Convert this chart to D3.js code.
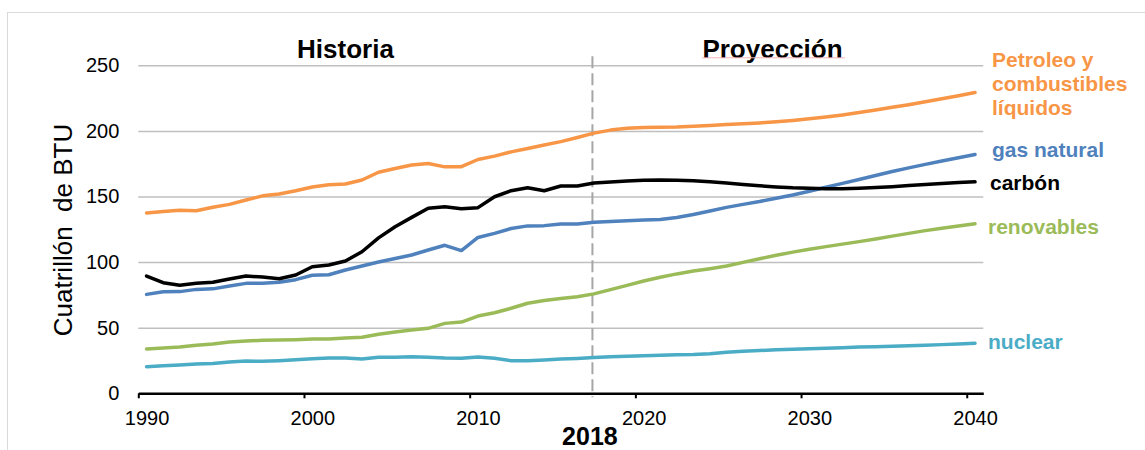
<!DOCTYPE html>
<html>
<head>
<meta charset="utf-8">
<script src="https://cdn.jsdelivr.net/npm/d3@7"></script>
<style>
  body { margin: 0; background: #fff; }
  svg text { font-family: "Liberation Sans", Arial, sans-serif; }
</style>
</head>
<body>
<div id="plot-container"></div>
<script>
// years on the category axis
var years = d3.range(1990, 2041)

// Cuatrillón de BTU, one value per year 1990..2040
var petroleo = [137.5, 138.6, 139.5, 139.1, 141.8, 144, 147.3, 150.5, 151.9, 154.4,
  157.3, 159, 159.5, 162.6, 168.5, 171.3, 174, 175.2, 172.6, 172.7,
  178.2, 180.8, 184, 186.6, 189.2, 191.8, 195, 198.3, 200.6, 202, 202.6,
  202.8, 203, 203.5, 204.2, 204.8, 205.4, 206.1, 207, 208, 209.2,
  210.6, 212.2, 214, 216, 218, 220, 222.2, 224.5, 226.8, 229.2]
var gasNatural = [75.4, 77.4, 77.5, 79.2, 79.6, 81.8, 83.8, 83.9, 84.6, 86.6,
  90, 90.4, 94, 97, 100.1, 102.8, 105.4, 109.2, 112.8, 108.8,
  118.8, 121.9, 125.6, 127.6, 127.8, 129, 129.1, 130.3, 131, 131.6, 132,
  132.5, 134, 136.3, 139, 141.7, 144, 146.2, 148.7, 151.2, 154,
  157, 160, 163, 166, 169, 171.8, 174.5, 177, 179.5, 182]
var carbon = [89.4, 84.3, 82.3, 83.8, 84.6, 87.1, 89.4, 88.6, 87.3, 90.2,
  96.5, 97.8, 100.8, 107.9, 118.5, 127, 134.1, 141, 142.2, 140.7,
  141.5, 149.8, 154.4, 156.7, 154.4, 158, 158, 160.3, 161, 161.8, 162.3,
  162.5, 162.3, 162, 161.3, 160.3, 159.2, 158.2, 157.3, 156.6, 156.2,
  156, 156, 156.3, 156.8, 157.5, 158.3, 159.1, 159.9, 160.6, 161.2]
var renovables = [33.8, 34.5, 35.3, 36.6, 37.6, 39.1, 39.9, 40.4, 40.6, 40.9,
  41.4, 41.4, 42.1, 42.7, 45, 46.7, 48.2, 49.5, 53.3, 54.3,
  58.9, 61.4, 64.8, 68.6, 70.8, 72.2, 73.6, 75.8, 79, 82.3, 85.6,
  88.5, 91, 93.2, 95, 97, 99.8, 102.5, 105.2, 107.6, 109.8,
  111.8, 113.7, 115.6, 117.6, 119.8, 121.9, 124, 125.8, 127.5, 129.2]
var nuclear = [20.3, 21, 21.6, 22.3, 22.8, 23.9, 24.6, 24.4, 24.9, 25.6,
  26.4, 26.9, 26.9, 26.1, 27.4, 27.4, 27.9, 27.4, 26.9, 26.7,
  27.7, 26.7, 24.8, 24.8, 25.4, 26.2, 26.6, 27.2, 27.8, 28.3, 28.7,
  29, 29.3, 29.6, 30.2, 31.2, 32, 32.6, 33.1, 33.6, 34,
  34.4, 34.8, 35.2, 35.5, 35.8, 36.2, 36.6, 37.1, 37.6, 38.1]

var yTicks = [0, 50, 100, 150, 200, 250]
var xLabels = [1990, 2000, 2010, 2020, 2030, 2040]
var splitYear = 2017

var series = [
  { name: "petroleo", values: petroleo, color: "#f79646" },
  { name: "gasNatural", values: gasNatural, color: "#4f81bd" },
  { name: "renovables", values: renovables, color: "#9bbb59" },
  { name: "nuclear", values: nuclear, color: "#4bacc6" },
  { name: "carbon", values: carbon, color: "#000000" }
]

// margin convention (window.top is read-only, so other names)
var marginTop = 65.3
var marginLeft = 138.3
var width = 845
var height = 328

var xScale = d3.scaleLinear().domain([1989.5, 2040.5]).range([0, width])
var yScale = d3.scaleLinear().domain([0, 250]).range([height, 0])

var root = d3.select("#plot-container").append("svg")
  .attr("width", 1145)
  .attr("height", 450)

// light frame of the chart area
root.append("rect")
  .attr("x", 7.5).attr("y", 12.5)
  .attr("width", 1300).attr("height", 600)
  .attr("fill", "none").attr("stroke", "#d9d9d9").attr("stroke-width", 1)

var svg = root.append("g")
  .attr("transform", "translate(" + marginLeft + "," + marginTop + ")")

// gridlines
svg.append("g").attr("class", "grid")
  .call(d3.axisLeft(yScale).tickValues(yTicks.slice(1)).tickSize(-width).tickFormat(""))
  .call(g => g.select(".domain").remove())
  .call(g => g.selectAll("line").attr("stroke", "#bfbfbf").attr("stroke-width", 1.5))

// y labels
svg.append("g").attr("class", "y axis")
  .call(d3.axisLeft(yScale).tickValues(yTicks).tickSize(0).tickPadding(19))
  .call(g => g.select(".domain").remove())
  .call(g => g.selectAll("text").attr("font-size", 20).attr("fill", "#000")
    .attr("font-family", "'Liberation Sans', Arial, sans-serif"))

// x axis line + tick marks between categories
svg.append("g").attr("class", "x axis")
  .attr("transform", "translate(0," + height + ")")
  .call(d3.axisBottom(xScale)
    .tickValues(d3.range(1989.5, 2040, 10))
    .tickSize(5).tickSizeOuter(0).tickFormat(""))
  .call(g => g.select(".domain").attr("stroke", "#000").attr("stroke-width", 2.5))
  .call(g => g.selectAll(".tick line").attr("stroke", "#000").attr("stroke-width", 2))

// x labels centred on the categories
svg.append("g").attr("class", "x labels")
  .attr("transform", "translate(0," + height + ")")
  .call(d3.axisBottom(xScale).tickValues(xLabels).tickSize(0).tickPadding(17.5)
    .tickFormat(d3.format("d")))
  .call(g => g.select(".domain").remove())
  .call(g => g.selectAll("text").attr("font-size", 20).attr("fill", "#000")
    .attr("font-family", "'Liberation Sans', Arial, sans-serif"))

// dashed divider history / projection
svg.append("line")
  .attr("x1", xScale(splitYear) - 1.5).attr("x2", xScale(splitYear) - 1.5)
  .attr("y1", -9).attr("y2", height + 4)
  .attr("stroke", "#a6a6a6").attr("stroke-width", 2)
  .attr("stroke-dasharray", "12,5")

// lines
var line = d3.line()
  .x((d, i) => xScale(years[i]))
  .y(d => yScale(d))

svg.selectAll(".series").data(series).enter().append("path")
  .attr("class", "series")
  .attr("d", d => line(d.values))
  .attr("fill", "none")
  .attr("stroke", d => d.color)
  .attr("stroke-width", 3.5)
  .attr("stroke-linejoin", "round")
  .attr("stroke-linecap", "round")

// section titles
root.append("text").text("Historia")
  .attr("x", 345.5).attr("y", 58.3).attr("text-anchor", "middle")
  .attr("font-size", 26).attr("font-weight", "bold")
root.append("text").text("Proyección")
  .attr("x", 772.5).attr("y", 58.3).attr("text-anchor", "middle")
  .attr("font-size", 26).attr("font-weight", "bold")
// spell-check underline seen in the original
root.append("line")
  .attr("x1", 702).attr("x2", 845).attr("y1", 57.8).attr("y2", 57.8)
  .attr("stroke", "#f4b6b6").attr("stroke-width", 1)

root.append("text").text("2018")
  .attr("x", marginLeft + xScale(splitYear) - 4).attr("y", 445).attr("text-anchor", "middle")
  .attr("font-size", 25).attr("font-weight", "bold")

// y axis title
root.append("text").text("Cuatrillón  de BTU")
  .attr("transform", "translate(72,230) rotate(-90)")
  .attr("text-anchor", "middle")
  .attr("font-size", 26)
  .style("white-space", "pre")

// series labels on the right
var labels = [
  { lines: ["Petroleo y", "combustibles", "líquidos"], x: 992, y: 66.7, color: "#f79646" },
  { lines: ["gas natural"], x: 992, y: 156.7, color: "#4f81bd" },
  { lines: ["carbón"], x: 990, y: 190, color: "#000000" },
  { lines: ["renovables"], x: 988, y: 234, color: "#9bbb59" },
  { lines: ["nuclear"], x: 988, y: 349.3, color: "#4bacc6" }
]
labels.forEach(function (l) {
  var t = root.append("text")
    .attr("x", l.x).attr("y", l.y)
    .attr("font-size", 21).attr("font-weight", "bold")
    .attr("fill", l.color)
  l.lines.forEach(function (s, i) {
    t.append("tspan").attr("x", l.x).attr("dy", i === 0 ? 0 : 24).text(s)
  })
})
</script>
</body>
</html>
